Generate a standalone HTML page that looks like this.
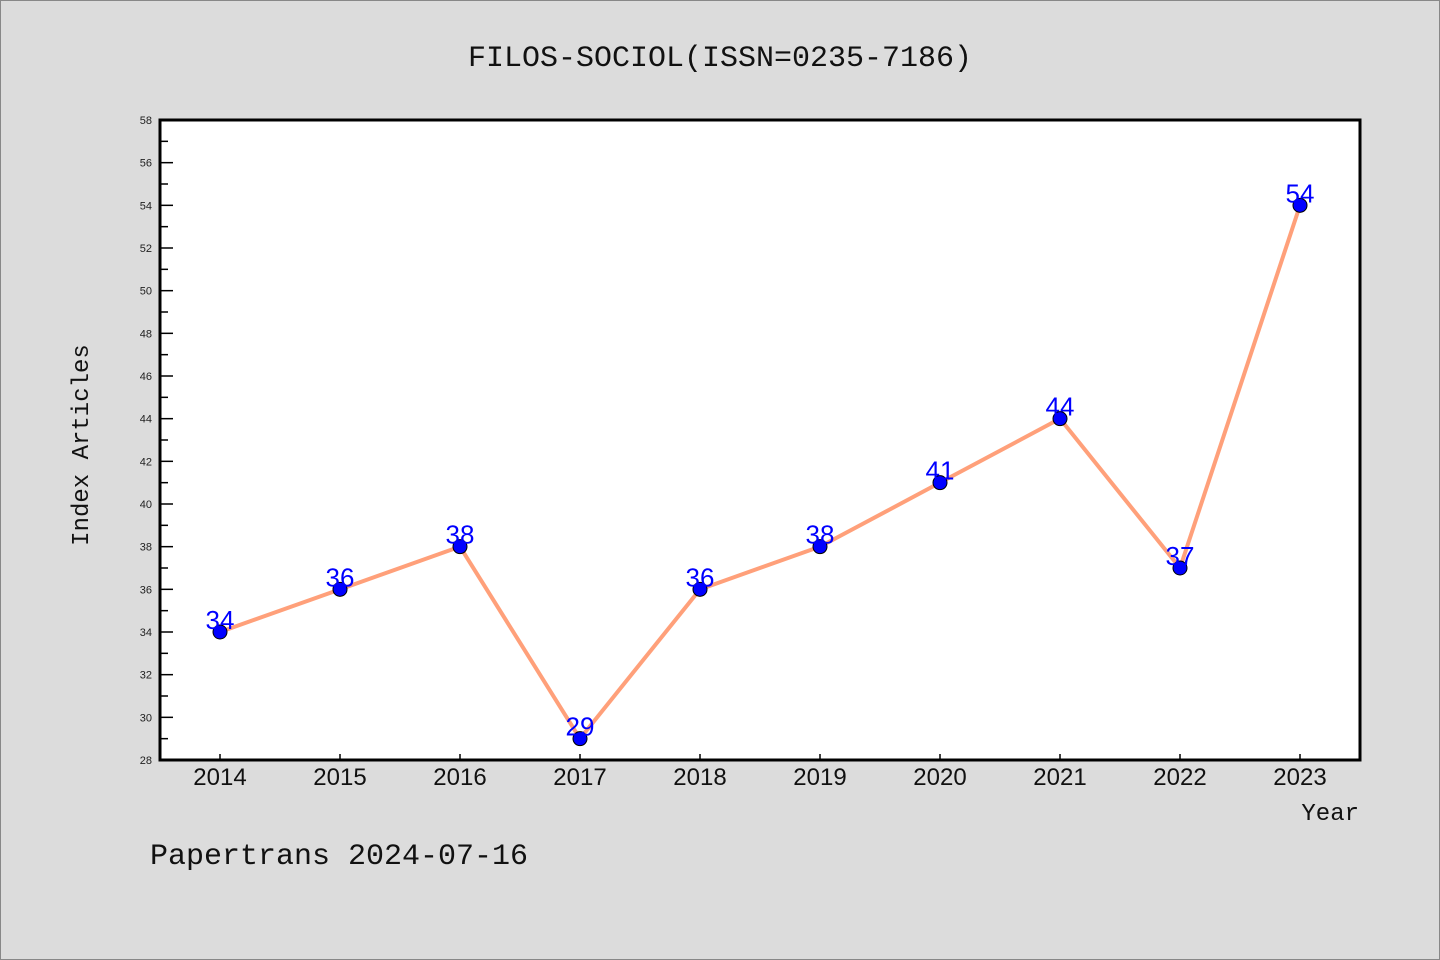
<!DOCTYPE html>
<html><head><meta charset="utf-8"><style>
body{margin:0;background:#dcdcdc;}
svg{display:block;font-family:"Liberation Sans","WenQuanYi Zen Hei",sans-serif;}
</style></head><body>
<svg id="chart" width="1440" height="960" xmlns="http://www.w3.org/2000/svg">
<rect x="0.5" y="0.5" width="1439" height="959" fill="#dcdcdc" stroke="#888"/>
<text x="720" y="66" text-anchor="middle" font-size="30" fill="#111" font-family="'WenQuanYi Zen Hei','Liberation Mono',monospace">FILOS-SOCIOL(ISSN=0235-7186)</text>
<rect x="160" y="120" width="1200" height="640" fill="#fff"/>
<g id="axes"></g>
<g id="series"></g>
<rect x="160" y="120" width="1200" height="640" fill="none" stroke="#000" stroke-width="3"/>
<text transform="translate(88,445) rotate(-90)" text-anchor="middle" font-size="24" fill="#111" font-family="'WenQuanYi Zen Hei','Liberation Mono',monospace">Index Articles</text>
<text x="1359" y="820" text-anchor="end" font-size="24" fill="#111" font-family="'WenQuanYi Zen Hei','Liberation Mono',monospace">Year</text>
<text x="150" y="864" font-size="30" fill="#111" font-family="'WenQuanYi Zen Hei','Liberation Mono',monospace">Papertrans 2024-07-16</text>
</svg>
<script>
const years=["2014","2015","2016","2017","2018","2019","2020","2021","2022","2023"];
const counts=[34,36,38,29,36,38,41,44,37,54];
const yTicks=[28,30,32,34,36,38,40,42,44,46,48,50,52,54,56,58];
const NS="http://www.w3.org/2000/svg";
const yMin=28,yMax=58,plotTop=120,plotBot=760,plotLeft=160;
function yS(v){return plotBot-(v-yMin)/(yMax-yMin)*(plotBot-plotTop);}
function xS(i){return 220+i*120;}
function mk(t,a,p){const e=document.createElementNS(NS,t);for(const k in a)e.setAttribute(k,a[k]);p.appendChild(e);return e;}
const ax=document.getElementById('axes'),se=document.getElementById('series');
yTicks.forEach(v=>{
 const l=mk('line',{x1:plotLeft,x2:plotLeft+13,y1:yS(v),y2:yS(v),stroke:'#000','stroke-width':1.5},ax);
 
 
 if(v<yMax){const m=mk('line',{x1:plotLeft,x2:plotLeft+8,y1:yS(v+1),y2:yS(v+1),stroke:'#000','stroke-width':1.5},ax);
 
 }
 const t=mk('text',{x:plotLeft-8,y:yS(v)+4,'text-anchor':'end','font-size':11,fill:'#222'},ax);
 t.textContent=v;
 
 
});
years.forEach((yr,i)=>{
 const l=mk('line',{x1:xS(i),x2:xS(i),y1:plotBot,y2:plotBot-6,stroke:'#000','stroke-width':1.5},ax);
 
 
 const t=mk('text',{x:xS(i),y:785,'text-anchor':'middle','font-size':24,fill:'#111'},ax);
 t.textContent=yr;
 
 
});
const pl=mk('polyline',{points:counts.map((v,i)=>xS(i)+','+yS(v)).join(' '),fill:'none',stroke:'#ffa07a','stroke-width':4,'stroke-linejoin':'round'},se);


counts.forEach((v,i)=>{
 const c=mk('circle',{cx:xS(i),cy:yS(v),r:7,fill:'#0000ff',stroke:'#000','stroke-width':1},se);
 
 
 const t=mk('text',{x:xS(i),y:yS(v)-3,'text-anchor':'middle','font-size':26,fill:'#0000ff'},se);
 t.textContent=v;
 
 
});
</script>
</body></html>
